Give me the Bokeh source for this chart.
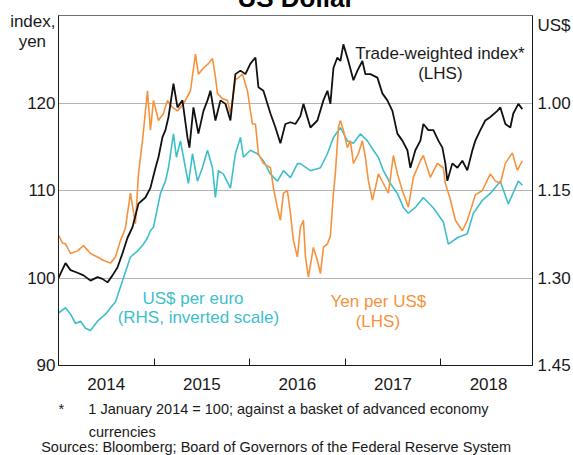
from bokeh.plotting import figure
from bokeh.models import Range1d, LinearAxis, FixedTicker, PrintfTickFormatter, Label, Title, Div
from bokeh.layouts import column
from bokeh.embed import file_html
from bokeh.resources import INLINE

# ---- data (decimal years) ----
twi_dates = [2014.000, 2014.021, 2014.073, 2014.126, 2014.199, 2014.262, 2014.335, 2014.408, 2014.460, 2014.513,
             2014.565, 2014.617, 2014.669, 2014.722, 2014.774, 2014.837, 2014.910, 2014.962, 2015.015, 2015.046,
             2015.088, 2015.119, 2015.151, 2015.203, 2015.245, 2015.297, 2015.349, 2015.370, 2015.412, 2015.464,
             2015.517, 2015.559, 2015.590, 2015.642, 2015.695, 2015.747, 2015.799, 2015.851, 2015.904, 2015.956,
             2016.008, 2016.061, 2016.092, 2016.144, 2016.218, 2016.270, 2016.322, 2016.374, 2016.427, 2016.479,
             2016.531, 2016.563, 2016.636, 2016.709, 2016.772, 2016.814, 2016.845, 2016.877, 2016.918, 2016.950,
             2016.981, 2017.033, 2017.086, 2017.128, 2017.180, 2017.211, 2017.264, 2017.337, 2017.389, 2017.441,
             2017.494, 2017.546, 2017.598, 2017.651, 2017.682, 2017.734, 2017.787, 2017.818, 2017.870, 2017.923,
             2017.975, 2018.017, 2018.048, 2018.069, 2018.121, 2018.174, 2018.226, 2018.278, 2018.331, 2018.362,
             2018.414, 2018.466, 2018.519, 2018.592, 2018.623, 2018.676, 2018.728, 2018.759, 2018.812, 2018.854]
twi_values = [100.0, 100.5, 101.7, 100.9, 100.6, 100.3, 99.7, 100.1, 99.9, 99.5,
              100.3, 101.2, 102.8, 104.6, 105.8, 108.5, 109.2, 110.3, 112.6, 113.8,
              116.1, 116.9, 118.4, 122.2, 119.5, 120.3, 116.1, 114.9, 119.5, 116.5,
              119.1, 120.3, 121.4, 118.0, 120.3, 119.9, 118.0, 123.3, 123.7, 123.3,
              124.5, 125.2, 121.8, 121.4, 118.8, 117.2, 115.4, 117.6, 117.8, 117.6,
              118.5, 119.9, 117.2, 118.0, 120.3, 121.4, 119.9, 124.0, 125.2, 124.8,
              126.7, 124.8, 122.6, 123.7, 124.8, 123.3, 123.3, 122.9, 121.1, 120.3,
              119.1, 116.5, 115.7, 114.6, 112.6, 114.6, 115.7, 117.6, 116.9, 116.9,
              115.7, 114.9, 113.1, 111.1, 113.1, 112.6, 113.4, 112.3, 114.6, 115.7,
              116.9, 118.0, 118.4, 119.1, 119.5, 117.6, 117.2, 118.8, 119.9, 119.3]

yen_dates = [2014.000, 2014.042, 2014.073, 2014.126, 2014.199, 2014.262, 2014.335, 2014.408, 2014.471, 2014.544,
             2014.596, 2014.649, 2014.680, 2014.701, 2014.753, 2014.805, 2014.837, 2014.879, 2014.931, 2014.962,
             2014.994, 2015.046, 2015.098, 2015.140, 2015.192, 2015.245, 2015.308, 2015.381, 2015.433, 2015.464,
             2015.517, 2015.569, 2015.611, 2015.642, 2015.663, 2015.715, 2015.768, 2015.799, 2015.851, 2015.925,
             2015.977, 2016.029, 2016.061, 2016.092, 2016.144, 2016.218, 2016.249, 2016.291, 2016.322, 2016.354,
             2016.395, 2016.427, 2016.458, 2016.500, 2016.531, 2016.563, 2016.584, 2016.615, 2016.667, 2016.709,
             2016.741, 2016.772, 2016.814, 2016.845, 2016.877, 2016.897, 2016.929, 2016.950, 2016.981, 2017.023,
             2017.054, 2017.086, 2017.138, 2017.180, 2017.211, 2017.243, 2017.285, 2017.316, 2017.347, 2017.400,
             2017.452, 2017.504, 2017.546, 2017.598, 2017.661, 2017.713, 2017.787, 2017.818, 2017.891, 2017.964,
             2018.027, 2018.048, 2018.100, 2018.153, 2018.226, 2018.278, 2018.310, 2018.362, 2018.435, 2018.519,
             2018.571, 2018.623, 2018.676, 2018.749, 2018.801, 2018.854]
yen_values = [104.9, 104.0, 103.9, 102.8, 103.1, 103.7, 102.8, 102.4, 102.0, 101.7,
              102.4, 104.3, 105.1, 105.8, 109.7, 106.2, 111.9, 115.7, 121.4, 116.9,
              120.3, 118.0, 118.8, 120.3, 119.5, 119.1, 119.9, 121.4, 125.6, 123.3,
              124.0, 124.5, 125.1, 123.0, 121.1, 120.5, 120.3, 118.8, 122.6, 123.3,
              121.4, 117.6, 117.6, 114.2, 113.1, 112.6, 110.3, 108.0, 106.6, 109.7,
              110.0, 107.4, 104.3, 102.4, 105.8, 106.6, 102.4, 100.1, 103.5, 102.0,
              100.5, 103.5, 103.9, 104.8, 109.7, 111.9, 117.2, 118.0, 116.9, 114.9,
              115.7, 113.1, 114.2, 115.7, 113.8, 111.1, 108.9, 110.3, 111.9, 110.8,
              109.7, 114.0, 111.9, 110.0, 108.1, 111.5, 113.4, 114.0, 111.5, 113.1,
              112.6, 110.8, 109.0, 106.6, 105.4, 106.6, 107.7, 109.5, 110.0, 111.9,
              111.1, 110.8, 113.1, 114.3, 112.3, 113.4]

eur_dates = [2014.000, 2014.073, 2014.126, 2014.178, 2014.230, 2014.282, 2014.335, 2014.408, 2014.492, 2014.544,
             2014.596, 2014.669, 2014.753, 2014.826, 2014.889, 2014.931, 2014.962, 2014.994, 2015.067, 2015.119,
             2015.151, 2015.203, 2015.234, 2015.276, 2015.328, 2015.360, 2015.402, 2015.454, 2015.506, 2015.559,
             2015.611, 2015.642, 2015.674, 2015.726, 2015.799, 2015.851, 2015.904, 2015.935, 2016.008, 2016.082,
             2016.144, 2016.218, 2016.291, 2016.354, 2016.427, 2016.500, 2016.531, 2016.636, 2016.741, 2016.814,
             2016.877, 2016.950, 2017.023, 2017.086, 2017.159, 2017.232, 2017.295, 2017.347, 2017.400, 2017.473,
             2017.546, 2017.609, 2017.661, 2017.734, 2017.818, 2017.923, 2018.027, 2018.079, 2018.174, 2018.278,
             2018.341, 2018.435, 2018.519, 2018.623, 2018.707, 2018.812, 2018.854]
eur_values = [1.360, 1.351, 1.362, 1.378, 1.374, 1.386, 1.390, 1.374, 1.362, 1.351,
              1.341, 1.305, 1.264, 1.254, 1.242, 1.231, 1.219, 1.213, 1.155, 1.134,
              1.111, 1.053, 1.093, 1.065, 1.111, 1.138, 1.087, 1.134, 1.111, 1.081,
              1.111, 1.162, 1.116, 1.122, 1.146, 1.087, 1.059, 1.093, 1.081, 1.087,
              1.099, 1.122, 1.134, 1.116, 1.128, 1.104, 1.104, 1.116, 1.111, 1.087,
              1.059, 1.042, 1.065, 1.069, 1.053, 1.065, 1.081, 1.093, 1.116, 1.138,
              1.155, 1.179, 1.189, 1.179, 1.162, 1.180, 1.204, 1.242, 1.231, 1.224,
              1.189, 1.167, 1.155, 1.134, 1.173, 1.134, 1.141]

year_labels = ["2014", "2015", "2016", "2017", "2018"]
left_ticks = [90, 100, 110, 120]
right_ticks = [1.00, 1.15, 1.30, 1.45]

FONT = "Liberation Sans"
TXT = "#1a1a1a"
ORANGE = "#f7923c"
TEAL = "#3dbfcb"
NB = "\u00a0"

p = figure(width=573, height=455, x_range=Range1d(2014.0, 2018.96), y_range=Range1d(90, 130),
           output_backend="svg", toolbar_location=None,
           min_border_left=58, min_border_right=41, min_border_top=15, min_border_bottom=90)
p.extra_y_ranges = {"eur": Range1d(1.45, 0.85)}
p.background_fill_color = "white"
p.border_fill_color = "white"
p.outline_line_color = "#707070"
p.outline_line_width = 1

# x axis: year labels mid-year, inside ticks at year boundaries
xa = p.xaxis[0]
xa.ticker = FixedTicker(ticks=[2014.5, 2015.5, 2016.5, 2017.5, 2018.5],
                        minor_ticks=[2015, 2016, 2017, 2018])
xa.major_label_overrides = {2014.5: year_labels[0], 2015.5: year_labels[1], 2016.5: year_labels[2],
                            2017.5: year_labels[3], 2018.5: year_labels[4]}
xa.major_tick_line_color = None
xa.major_tick_in = 0
xa.major_tick_out = 0
xa.minor_tick_in = 7
xa.minor_tick_out = 0
xa.minor_tick_line_color = "#1a1a1a"
xa.axis_line_color = "#1a1a1a"
xa.major_label_standoff = 12
xa.major_label_text_font = FONT
xa.major_label_text_font_size = "17px"
xa.major_label_text_color = TXT

# left axis (the unit header is written as extra tick labels at the top)
ya = p.yaxis[0]
ya.ticker = FixedTicker(ticks=left_ticks + [127.07, 129.33])
ya.major_label_overrides = {127.07: "yen" + NB + NB, 129.33: "index,"}
ya.major_tick_line_color = None
ya.major_tick_in = 0
ya.major_tick_out = 0
ya.minor_tick_line_color = None
ya.axis_line_color = "#1a1a1a"
ya.major_label_standoff = 3
ya.major_label_text_font = FONT
ya.major_label_text_font_size = "17px"
ya.major_label_text_color = TXT

ra = LinearAxis(y_range_name="eur", ticker=FixedTicker(ticks=right_ticks + [0.8665]),
                formatter=PrintfTickFormatter(format="%.2f"))
ra.major_label_overrides = {0.8665: "US$"}
ra.major_tick_line_color = None
ra.major_tick_in = 0
ra.major_tick_out = 0
ra.minor_tick_line_color = None
ra.axis_line_color = "#1a1a1a"
ra.major_label_standoff = 5
ra.major_label_text_font = FONT
ra.major_label_text_font_size = "17px"
ra.major_label_text_color = TXT
p.add_layout(ra, "right")

p.xgrid.visible = False
p.ygrid.ticker = FixedTicker(ticks=[100, 110, 120])
p.ygrid.grid_line_color = "#b4b4b4"
p.ygrid.grid_line_width = 1

p.line(eur_dates, eur_values, y_range_name="eur", line_color=TEAL, line_width=1.6)
p.line(yen_dates, yen_values, line_color=ORANGE, line_width=1.6)
p.line(twi_dates, twi_values, line_color="#111111", line_width=1.8)

def lab(text, x, y, color=TXT):
    p.add_layout(Label(x=x, y=y, text=text, text_color=color, text_font=FONT, text_font_size="17px",
                       text_align="center", text_baseline="alphabetic"))

lab("Trade-weighted index*", 2017.991, 125.69)
lab("(LHS)", 2017.996, 123.41)
lab("US$ per euro", 2015.407, 97.62, color=TEAL)
lab("(RHS, inverted scale)", 2015.464, 95.49, color=TEAL)
lab("Yen per US$", 2017.347, 97.31, color=ORANGE)
lab("(LHS)", 2017.342, 95.03, color=ORANGE)

def note(text, offset, standoff):
    p.add_layout(Title(text=text, align="left", offset=offset, standoff=standoff,
                       text_font=FONT, text_font_size="14.5px", text_font_style="normal",
                       text_color=TXT), "below")

note("*" + NB * 6 + "1 January 2014 = 100; against a basket of advanced economy", 0, 13)
note("currencies", 30.3, -4)
note("Sources: Bloomberg; Board of Governors of the Federal Reserve System", -17.3, -2)

title_div = Div(text="US Dollar", width=200, height=30,
                styles={"position": "absolute", "top": "-20.5px", "left": "191px",
                        "font-family": "Liberation Sans", "font-size": "26px", "font-weight": "bold",
                        "text-align": "center", "line-height": "26px", "color": "#000000"})

root = column(p, title_div)
open("out.html", "w").write(file_html(root, INLINE))
